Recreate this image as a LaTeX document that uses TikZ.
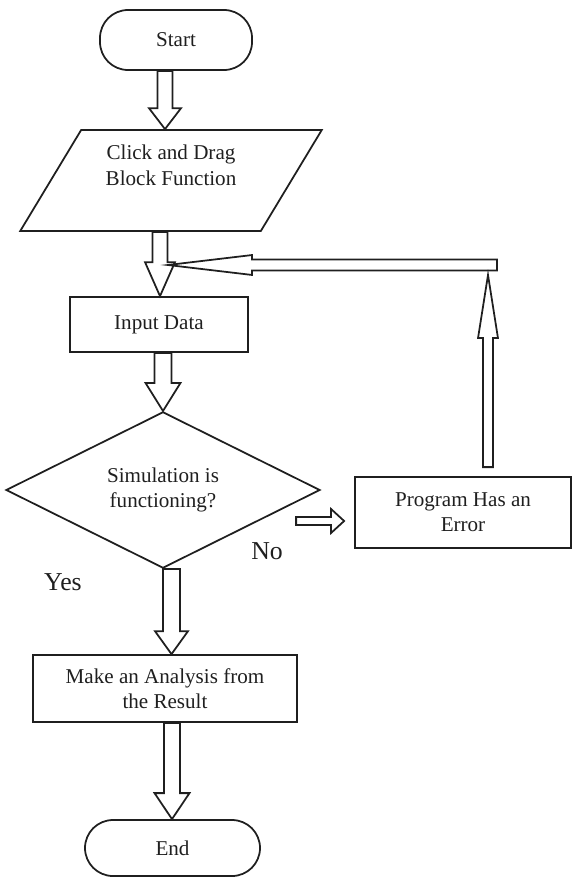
\documentclass[tikz,border=0pt]{standalone}
\usepackage{fontspec}
\setmainfont{Liberation Serif}
\usetikzlibrary{calc,shapes.geometric}
\tikzset{
	box/.style={draw, rectangle, align=center, inner sep=0pt},
	term/.style={draw, rectangle, rounded corners=0.84cm, inner sep=0pt},
	yesno/.style={font=\fontsize{22}{26}\selectfont},
}
\def\blockarrow(#1)(#2)(#3:#4:#5){\draw ($(#1)!#3!90:(#2)$) -- ($(#2)!#5!(#1)!#3!-90:(#1)$) -- ($(#2)!#5!(#1)!#4!-90:(#1)$) -- (#2) -- ($(#2)!#5!(#1)!#4!90:(#1)$) -- ($(#2)!#5!(#1)!#3!90:(#1)$) -- ($(#1)!#3!-90:(#2)$) -- cycle;}

\begin{document}
\begin{tikzpicture}[x=0.03cm, y=-0.03cm, line width=1.5pt, color=black!88, line join=miter, font=\fontsize{18}{21.5}\selectfont]
			%%%%% START %%%%%
			\useasboundingbox (0, 0) rectangle (574, 877);
			
			\node[term, minimum width=4.56cm, minimum height=1.8cm] (start) at (176, 40) {Start};
			\node[draw, trapezium, trapezium left angle=59, trapezium right angle=121, trapezium stretches=true, minimum width=9.06cm, minimum height=3.03cm, align=center, text depth=26pt] (click) at (171, 180.5) {Click and Drag\\Block Function};
			\node[box, minimum width=5.34cm, minimum height=1.65cm] (input) at (159, 324.5) {Input Data};
			\node[draw, diamond, minimum width=9.42cm, minimum height=4.05cm, inner sep=0pt, align=center] (sim) at (163, 490) {Simulation is\\functioning?};
			\node[box, minimum width=6.48cm, minimum height=2.13cm] (prog) at (463, 512.5) {Program Has an\\Error};
			\node[box, minimum width=7.92cm, minimum height=2.01cm] (ana) at (165, 688.5) {Make an Analysis from\\the Result};
			\node[term, minimum width=5.25cm, minimum height=1.68cm] (end) at (172.5, 848) {End};
			
			\node[yesno] (yes) at (63, 582) {Yes};
			\node[yesno] (no) at (267, 551) {No};
			
			\blockarrow(165,0 |- start.south)(165,0 |- click.north)(6.4pt:13.7pt:17.9pt);
			\blockarrow(160,0 |- click.south)(160,0 |- input.north)(6.4pt:12.8pt:29pt);
			\blockarrow(163,0 |- input.south)(sim.north)(7.3pt:14.9pt:23.9pt);
			\blockarrow(171.5,0 |- sim.south)(171.5,0 |- ana.north)(7.3pt:14.1pt:19.6pt);
			\blockarrow(172,0 |- ana.south)(172,0 |- end.north)(6.8pt:14.9pt:22.2pt);
			
			% error loop
			\coordinate (no-a) at ($(prog.west)+(-58, 8.5)$);
			\coordinate (no-b) at ($(prog.west)+(-10, 8.5)$);
			\blockarrow(no-a)(no-b)(3.4pt:10.2pt:11.1pt);
			\coordinate (up-a) at ($(prog.north)+(25, -9)$);
			\coordinate (up-b) at (488, 275);
			\blockarrow(up-a)(up-b)(4.3pt:8.5pt:53.8pt);
			\coordinate (back) at (497, 265);
			\coordinate (join) at (168, 265);
			\blockarrow(back)(join)(4.7pt:8.5pt:71.7pt);
			
			%%%%% END %%%%%
\end{tikzpicture}
\end{document}
